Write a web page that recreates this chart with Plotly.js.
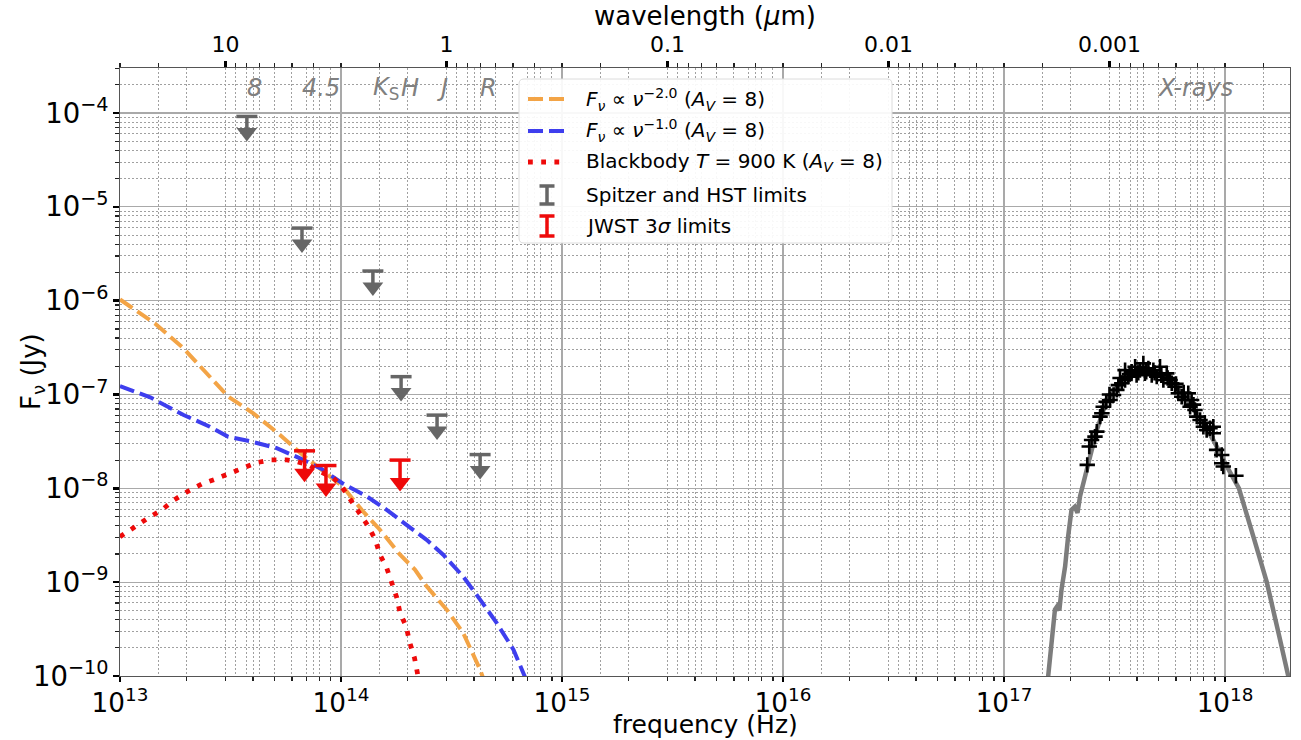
<!DOCTYPE html>
<html><head><meta charset="utf-8">
<script src="https://cdn.plot.ly/plotly-3.0.1.min.js"></script>
<style>html,body{margin:0;padding:0;background:#fff}</style>
</head><body><div id="chart" style="width:1301px;height:740px"></div>
<script>
// ---------- data ----------
const C_UM_HZ = 2.99792458e14; // lambda[um] = C / nu[Hz]

const pl2Nu = [1e13,1.44e13,1.94e13,2.55e13,3.09e13,4.01e13,5.30e13,6.75e13,8.32e13,1.02e14,1.24e14,1.50e14,1.85e14,2.16e14,2.44e14,3.01e14,3.57e14,4.26e14,4.47e14];
const pl2F  = [1.03e-6,5.71e-7,3.10e-7,1.55e-7,9.48e-8,6.31e-8,3.71e-8,2.24e-8,1.51e-8,1.04e-8,5.90e-9,3.62e-9,1.96e-9,1.36e-9,9.02e-10,5.09e-10,2.88e-10,1.17e-10,8.5e-11];

const pl1Nu = [1e13,1.37e13,1.94e13,2.55e13,3.09e13,3.87e13,5.12e13,6.52e13,8.13e13,1.01e14,1.31e14,1.61e14,2.02e14,2.44e14,2.90e14,3.57e14,4.26e14,5.06e14,6.03e14,6.73e14,7.0e14];
const pl1F  = [1.23e-7,9.33e-8,6.05e-8,4.54e-8,3.54e-8,3.18e-8,2.68e-8,2.09e-8,1.62e-8,1.14e-8,8.18e-9,5.90e-9,3.93e-9,2.83e-9,1.96e-9,1.15e-9,6.52e-10,3.68e-10,1.91e-10,1.0e-10,8.3e-11];

const bbNu = [1e13,1.17e13,1.36e13,1.55e13,1.74e13,2.02e13,2.34e13,2.69e13,3.09e13,3.61e13,4.15e13,4.85e13,5.68e13,6.31e13,7.11e13,8.04e13,9.23e13,1.0e14,1.10e14,1.22e14,1.33e14,1.43e14,1.50e14,1.61e14,1.69e14,1.79e14,1.85e14,1.97e14,2.05e14,2.15e14,2.21e14,2.25e14];
const bbF  = [3.05e-9,3.93e-9,4.94e-9,5.90e-9,7.41e-9,9.25e-9,1.11e-8,1.25e-8,1.43e-8,1.64e-8,1.88e-8,2.01e-8,2.01e-8,1.93e-8,1.78e-8,1.51e-8,1.29e-8,1.07e-8,7.55e-9,5.45e-9,3.93e-9,2.83e-9,1.96e-9,1.42e-9,9.79e-10,6.79e-10,4.70e-10,3.39e-10,2.25e-10,1.56e-10,1.12e-10,8.9e-11];

const bandLabels = ['8','4.5','<i>K</i><sub>S</sub>','<i>H</i>','<i>J</i>','<i>R</i>'];
const spitzerNu = [3.75e13,6.66e13,1.394e14,1.87e14,2.72e14,4.26e14];
const spitzerF  = [9.2e-5,5.94e-6,2.07e-6,1.55e-7,6.03e-8,2.29e-8];

const jwstNu = [6.84e13,8.55e13,1.85e14];
const jwstF  = [2.51e-8,1.75e-8,2.0e-8];

const xrayNu = [2.38e17,2.43e17,2.49e17,2.58e17,2.63e17,2.72e17,2.77e17,2.81e17,2.90e17,3.02e17,3.13e17,3.24e17,3.29e17,3.41e17,3.53e17,3.53e17,3.65e17,3.78e17,3.92e17,3.98e17,4.12e17,4.27e17,4.34e17,4.50e17,4.66e17,4.74e17,4.91e17,5.08e17,5.26e17,5.45e17,5.64e17,5.74e17,5.94e17,6.15e17,6.37e17,6.59e17,6.82e17,6.95e17,7.06e17,7.31e17,7.45e17,7.71e17,7.98e17,8.26e17,8.55e17,8.85e17,8.85e17,9.16e17,9.66e17,9.66e17,9.82e17,1.12e18,
  3.00e17,3.35e17,3.70e17,4.05e17,4.40e17,4.80e17,5.15e17,5.50e17,6.00e17,6.50e17,7.20e17,8.10e17];
const xrayF  = [1.78e-8,2.79e-8,3.28e-8,3.56e-8,4.02e-8,5.81e-8,6.31e-8,7.41e-8,8.38e-8,8.73e-8,9.89e-8,1.12e-7,1.26e-7,1.32e-7,1.43e-7,1.82e-7,1.55e-7,1.75e-7,1.98e-7,1.61e-7,1.82e-7,2.15e-7,1.68e-7,1.90e-7,1.61e-7,1.82e-7,1.55e-7,1.98e-7,1.43e-7,1.68e-7,1.43e-7,1.32e-7,1.21e-7,1.03e-7,9.48e-8,8.73e-8,1.03e-7,7.41e-8,8.73e-8,6.84e-8,5.81e-8,5.36e-8,4.54e-8,4.19e-8,4.37e-8,4.54e-8,3.87e-8,2.57e-8,2.27e-8,1.85e-8,1.71e-8,1.36e-8,
  1.0e-7,1.5e-7,1.65e-7,1.7e-7,1.75e-7,1.7e-7,1.6e-7,1.5e-7,1.3e-7,1.05e-7,7.8e-8,5.0e-8];

const modelNu = [1.55e17,1.585e17,1.64e17,1.70e17,1.74e17,1.78e17,1.82e17,1.89e17,1.95e17,2.02e17,2.09e17,2.15e17,2.21e17,2.27e17,2.40e17,2.63e17,2.92e17,3.35e17,3.98e17,4.58e17,5.45e17,6.25e17,7.45e17,8.85e17,1.02e18,1.156e18,1.35e18,1.545e18,1.75e18,1.935e18,2.0e18];
const modelF  = [6e-11,1.0e-10,2.07e-10,5.10e-10,5.53e-10,5.01e-10,8.32e-10,1.47e-9,3.07e-9,5.90e-9,6.36e-9,5.48e-9,8.32e-9,1.05e-8,1.78e-8,4.19e-8,8.73e-8,1.32e-7,1.75e-7,1.82e-7,1.61e-7,1.12e-7,6.31e-8,3.28e-8,1.71e-8,1.0e-8,2.95e-9,1.0e-9,2.8e-10,1.0e-10,7.0e-11];

const xrayLabelNu = 4.9e17;

const wlTicks = [10,1,0.1,0.01,0.001];
const wlTickText = ['10','1','0.1','0.01','0.001'];

// ---------- styling ----------
const FONT = 'DejaVu Sans, Verdana, sans-serif';
const ORANGE = 'rgb(243,164,70)';
const BLUE = 'rgb(62,62,238)';
const RED = 'rgb(238,10,10)';
const GREY = 'rgb(102,102,102)';
const X0 = 13, X1 = 18.294, Y0 = -10, Y1 = -3.52;

function limitTraces(nu, F, dex, color, name) {
  const sx = [], sy = [];
  nu.forEach((n, i) => { sx.push(n, n, null); sy.push(F[i], F[i] * Math.pow(10, -dex), null); });
  return [
    {x: sx, y: sy, mode: 'lines', line: {color: color, width: 3.5}, hoverinfo: 'skip', showlegend: false},
    {x: nu, y: F, mode: 'markers', name: name, showlegend: false,
     marker: {symbol: 'line-ew', size: 15, color: color, line: {color: color, width: 3.5}}},
    {x: nu, y: F.map(v => v * Math.pow(10, -dex)), mode: 'markers', showlegend: false,
     marker: {symbol: 'triangle-down', size: 18, color: color, line: {width: 0}}}
  ];
}

const traces = [
  {x: modelNu, y: modelF, mode: 'lines', line: {color: 'rgb(125,125,125)', width: 4.5}, showlegend: false},
  {x: pl2Nu, y: pl2F, mode: 'lines', line: {color: ORANGE, width: 4, dash: '15px,6px'}, showlegend: false},
  {x: pl1Nu, y: pl1F, mode: 'lines', line: {color: BLUE, width: 4, dash: '15px,6px'}, showlegend: false},
  {x: bbNu, y: bbF, mode: 'lines', line: {color: RED, width: 4.8, dash: '4.8px,8.4px'}, showlegend: false},
  ...limitTraces(spitzerNu, spitzerF, 0.17, GREY, 'Spitzer and HST limits'),
  ...limitTraces(jwstNu, jwstF, 0.24, RED, 'JWST 3σ limits'),
  {x: xrayNu, y: xrayF, mode: 'markers', showlegend: false,
   marker: {symbol: 'cross-thin', size: 11, color: '#000', line: {color: '#000', width: 2.6}}},
  // same limits expressed in wavelength, invisible: anchors the top (wavelength) axis
  {x: spitzerNu.map(n => C_UM_HZ / n), y: spitzerF, xaxis: 'x2', yaxis: 'y', mode: 'markers',
   marker: {opacity: 0, size: 1}, hoverinfo: 'skip', showlegend: false}
];

// wavelength minor ticks
const wlMinor = [];
for (let k = -4; k <= 1; k++) for (let d = 2; d <= 9; d++) wlMinor.push(d * Math.pow(10, k));

// paper coordinate helpers (plot area: x 120..1290, y 68..676)
const px = x => (x - 120) / 1170;
const py = y => (676 - y) / 608;

const shapes = [];
const annotations = [];
// legend frame (rounded)
(function () {
  const x0 = px(519), x1 = px(892), y0 = py(243), y1 = py(79);
  const rx = 5 / 1170, ry = 5 / 608;
  const p = `M ${x0 + rx},${y0} L ${x1 - rx},${y0} Q ${x1},${y0} ${x1},${y0 + ry} L ${x1},${y1 - ry} Q ${x1},${y1} ${x1 - rx},${y1} L ${x0 + rx},${y1} Q ${x0},${y1} ${x0},${y1 - ry} L ${x0},${y0 + ry} Q ${x0},${y0} ${x0 + rx},${y0} Z`;
  shapes.push({type: 'path', path: p, xref: 'paper', yref: 'paper', layer: 'above',
    fillcolor: 'rgba(255,255,255,0.92)', line: {color: '#dcdcdc', width: 1}});
})();
const legItems = [
  {y: 99, kind: 'line', color: ORANGE, dash: '15px,6px', width: 4,
   text: '<i>F</i><sub><i>ν</i></sub> ∝ <i>ν</i><sup>−2.0</sup> (<i>A</i><sub><i>V</i></sub> = 8)'},
  {y: 131, kind: 'line', color: BLUE, dash: '15px,6px', width: 4,
   text: '<i>F</i><sub><i>ν</i></sub> ∝ <i>ν</i><sup>−1.0</sup> (<i>A</i><sub><i>V</i></sub> = 8)'},
  {y: 162, kind: 'line', color: RED, dash: '4.8px,8.4px', width: 4.8,
   text: 'Blackbody <i>T</i> = 900 K (<i>A</i><sub><i>V</i></sub> = 8)'},
  {y: 195, kind: 'bar', color: GREY, h: 9, text: 'Spitzer and HST limits'},
  {y: 226, kind: 'bar', color: RED, h: 10, text: 'JWST 3<i>σ</i> limits'}
];
legItems.forEach(it => {
  if (it.kind === 'line') {
    shapes.push({type: 'line', xref: 'paper', yref: 'paper', layer: 'above',
      x0: px(528), x1: px(566), y0: py(it.y), y1: py(it.y),
      line: {color: it.color, width: it.width, dash: it.dash}});
  } else {
    const xc = 547;
    shapes.push({type: 'line', xref: 'paper', yref: 'paper', layer: 'above',
      x0: px(xc), x1: px(xc), y0: py(it.y - it.h), y1: py(it.y + it.h), line: {color: it.color, width: 3.5}});
    [it.y - it.h, it.y + it.h].forEach(yy => shapes.push({type: 'line', xref: 'paper', yref: 'paper', layer: 'above',
      x0: px(xc - 7.5), x1: px(xc + 7.5), y0: py(yy), y1: py(yy), line: {color: it.color, width: 3.5}}));
  }
  annotations.push({xref: 'paper', yref: 'paper', x: px(584), y: py(it.y), xanchor: 'left', yanchor: 'middle',
    text: it.text, showarrow: false, font: {family: FONT, size: 20, color: '#000'}});
});

// band labels
spitzerNu.forEach((n, i) => {
  annotations.push({xref: 'x', yref: 'paper', x: Math.log10(n), y: py(88), xanchor: 'left', yanchor: 'middle',
    text: i < 2 ? '<i>' + bandLabels[i] + '</i>' : bandLabels[i], showarrow: false, xshift: -2,
    font: {family: FONT, size: 24, color: 'rgb(128,128,128)'}});
});
annotations.push({xref: 'x', yref: 'paper', x: Math.log10(xrayLabelNu), y: py(88), xanchor: 'left', yanchor: 'middle',
  text: '<i>X-rays</i>', showarrow: false, xshift: -2, font: {family: FONT, size: 24, color: 'rgb(128,128,128)'}});

// axis titles
const TF = {family: FONT, size: 26, color: '#000'};
annotations.push({xref: 'paper', yref: 'paper', x: 0.5, y: py(724), xanchor: 'center', yanchor: 'middle',
  text: 'frequency (Hz)', showarrow: false, font: {family: FONT, size: 25, color: '#000'}, borderpad: 0});
annotations.push({xref: 'paper', yref: 'paper', x: 0.5, y: py(16), xanchor: 'center', yanchor: 'middle',
  text: 'wavelength (<i>μ</i>m)', showarrow: false, font: TF, borderpad: 0});
annotations.push({xref: 'paper', yref: 'paper', x: px(32), y: py(372), xanchor: 'center', yanchor: 'middle',
  text: 'F<sub>ν</sub> (Jy)', textangle: -90, showarrow: false, font: TF});

const gridMajor = '#a9a9a9';
const gridMinor = '#a0a0a0';
const TICKF = {family: FONT, size: 22, color: '#000'};
const layout = {
  width: 1301, height: 740,
  margin: {l: 120, r: 11, t: 68, b: 64},
  paper_bgcolor: '#fff', plot_bgcolor: '#fff',
  font: {family: FONT, color: '#000'},
  showlegend: false,
  xaxis: {
    type: 'log', range: [X0, X1], dtick: 1, exponentformat: 'power',
    ticks: 'outside', ticklen: 5, tickwidth: 2.5, tickcolor: '#000',
    tickfont: {family: FONT, size: 21, color: '#000'},
    showgrid: true, gridcolor: gridMajor, gridwidth: 1.2, zeroline: false,
    showline: true, linecolor: '#555', linewidth: 1,
    minor: {dtick: 'D1', ticks: 'outside', ticklen: 4, tickwidth: 1.2, tickcolor: '#222',
            showgrid: true, gridcolor: gridMinor, griddash: '2px,2px', gridwidth: 1}
  },
  xaxis2: {
    type: 'log', overlaying: 'x', side: 'top', anchor: 'y',
    range: [Math.log10(C_UM_HZ / Math.pow(10, X0)), Math.log10(C_UM_HZ / Math.pow(10, X1))],
    tickmode: 'array', tickvals: wlTicks, ticktext: wlTickText,
    ticks: 'outside', ticklen: 6, tickwidth: 2.5, tickcolor: '#000',
    tickfont: TICKF,
    showgrid: true, gridcolor: gridMinor, griddash: '2px,2px', gridwidth: 1, zeroline: false,
    showline: true, linecolor: '#555', linewidth: 1,
    minor: {tickmode: 'array', tickvals: wlMinor, ticks: 'outside', ticklen: 4, tickwidth: 1.2, tickcolor: '#222',
            showgrid: true, gridcolor: gridMinor, griddash: '2px,2px', gridwidth: 1}
  },
  yaxis: {
    type: 'log', range: [Y0, Y1], dtick: 1, exponentformat: 'power',
    ticks: 'outside', ticklen: 6, tickwidth: 2.5, tickcolor: '#000',
    tickfont: TICKF,
    showgrid: true, gridcolor: gridMajor, gridwidth: 1.2, zeroline: false,
    showline: true, mirror: true, linecolor: '#555', linewidth: 1,
    minor: {dtick: 'D1', ticks: 'outside', ticklen: 4, tickwidth: 1.2, tickcolor: '#222',
            showgrid: true, gridcolor: gridMinor, griddash: '2px,2px', gridwidth: 1}
  },
  shapes: shapes,
  annotations: annotations
};

Plotly.newPlot('chart', traces, layout, {displayModeBar: false, staticPlot: true});
</script></body></html>
